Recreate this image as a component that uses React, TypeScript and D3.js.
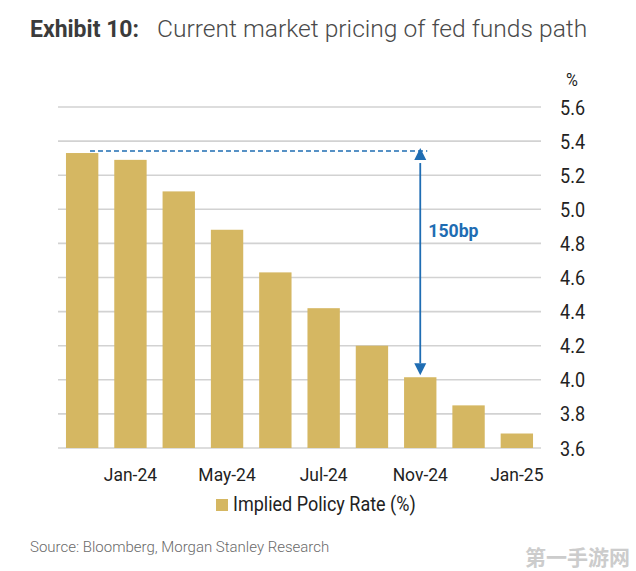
import React from "react";
import * as d3 from "d3";

const categories = ["Dec-23", "Jan-24", "Mar-24", "May-24", "Jun-24", "Jul-24", "Sep-24", "Nov-24", "Dec-24", "Jan-25"];
const values = [5.33, 5.29, 5.105, 4.88, 4.63, 4.42, 4.2, 4.015, 3.85, 3.685];
const shownTicks = ["Jan-24", "May-24", "Jul-24", "Nov-24", "Jan-25"];
const yTicks = [3.6, 3.8, 4.0, 4.2, 4.4, 4.6, 4.8, 5.0, 5.2, 5.4, 5.6];
const annotationEndCategory = "Nov-24";
const annotationLabel = "150bp";
const titleBold = "Exhibit 10:";
const titleRest = "Current market pricing of fed funds path";
const legendLabel = "Implied Policy Rate (%)";
const sourceText = "Source: Bloomberg, Morgan Stanley Research";

const W = 636;
const H = 571;
const GOLD = "#D5B762";
const BLUE = "#1F6DB3";
const FONT = "Roboto, 'Noto Sans', sans-serif";

function CText(props: { x: number; y: number; sx?: number; anchor?: string; size: number; weight?: number; fill: string; children: React.ReactNode; }) {
  const { x, y, sx = 0.9, anchor = "start", size, weight = 400, fill, children } = props;
  return (
    <text transform={`translate(${x},${y}) scale(${sx},1)`} textAnchor={anchor} fontSize={size} fontWeight={weight} fill={fill} fontFamily={FONT}>
      {children}
    </text>
  );
}

export default function App() {
  const x = d3.scaleBand<string>().domain(categories).range([58, 541]).paddingInner(0.33).paddingOuter(0.165);
  const y = d3.scaleLinear().domain([3.6, 5.6]).range([448, 107]);
  const bw = x.bandwidth();
  const topY = y(values[0]) - 2;
  const endIdx = categories.indexOf(annotationEndCategory);
  const ax = (x(annotationEndCategory) as number) + bw / 2;
  const bottomY = y(values[endIdx]) - 2;
  const dashStart = (x(categories[0]) as number) + 24;
  const ah = 12;
  const aw = 6;

  return (
    <svg width={W} height={H} style={{ position: "absolute", left: 0, top: 0, background: "#fff" }}>
      <rect x={0} y={0} width={W} height={H} fill="#fff" />
      <text x={30} y={37} fontFamily={FONT} fontSize={23} fontWeight={700} fill="#3b3b3b">{titleBold}</text>
      <text x={157} y={37} fontFamily={FONT} fontSize={24.6} fontWeight={300} fill="#4a4a4a">{titleRest}</text>

      <CText x={572} y={86} anchor="middle" size={18} fill="#222">%</CText>

      {yTicks.map((t) => (
        <g key={t}>
          <line x1={58} x2={541} y1={y(t)} y2={y(t)} stroke="#d2d2d2" strokeWidth={1.6} />
          <CText x={560} y={y(t) + 7.5} size={20.5} sx={0.88} fill="#222">{t.toFixed(1)}</CText>
        </g>
      ))}

      {categories.map((c, i) => (
        <rect key={c} x={x(c)} y={y(values[i])} width={bw} height={y(3.6) - y(values[i])} fill={GOLD} />
      ))}

      {shownTicks.map((c) => (
        <CText key={c} x={(x(c) as number) + bw / 2} y={481} anchor="middle" size={19} sx={0.92} fill="#222">{c}</CText>
      ))}

      <line x1={dashStart} x2={ax + 7} y1={topY} y2={topY} stroke={BLUE} strokeWidth={1.5} strokeDasharray="5,3" />
      <line x1={ax} x2={ax} y1={topY + ah} y2={bottomY - ah} stroke={BLUE} strokeWidth={1.8} />
      <path d={`M${ax},${topY - 3} L${ax - aw},${topY - 3 + ah} L${ax + aw},${topY - 3 + ah} Z`} fill={BLUE} />
      <path d={`M${ax},${bottomY} L${ax - aw},${bottomY - ah} L${ax + aw},${bottomY - ah} Z`} fill={BLUE} />
      <CText x={ax + 8} y={237} size={19} weight={700} sx={0.93} fill={BLUE}>{annotationLabel}</CText>

      <rect x={216} y={499} width={12} height={12} fill={GOLD} />
      <CText x={233} y={511} size={20} sx={0.9} fill="#222">{legendLabel}</CText>

      <text x={30} y={552} fontFamily={FONT} fontSize={15} fontWeight={300} fill="#6a6a6a">{sourceText}</text>

      <text x={630} y={565} textAnchor="end" fontFamily="'Noto Sans CJK SC', sans-serif" fontWeight={700} fontSize={21} fill="#cccccc">第一手游网</text>
    </svg>
  );
}
